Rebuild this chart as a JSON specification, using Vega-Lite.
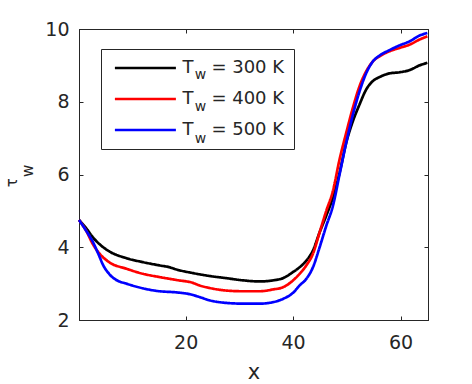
{
  "$schema": "https://vega.github.io/schema/vega-lite/v6.json",
  "width": 349,
  "height": 291,
  "autosize": {"type": "none"},
  "padding": {"left": 79, "top": 29, "right": 44, "bottom": 64},
  "config": {
    "font": "DejaVu Sans",
    "view": {"stroke": "#262626", "strokeWidth": 1},
    "axis": {
      "domainColor": "#262626",
      "tickColor": "#262626",
      "labelColor": "#262626",
      "titleColor": "#262626",
      "grid": false,
      "labelFontSize": 19,
      "tickSize": -4,
      "tickWidth": 1,
      "domainWidth": 1,
      "titleFontWeight": "normal"
    }
  },
  "resolve": {"axis": {"x": "independent", "y": "independent"}},
  "layer": [
    {
      "data": {
        "values": [
          {"x": 0.15, "y": 4.75, "T": "300"},
          {"x": 1.5, "y": 4.52, "T": "300"},
          {"x": 2.75, "y": 4.27, "T": "300"},
          {"x": 4.0, "y": 4.08, "T": "300"},
          {"x": 5.86, "y": 3.88, "T": "300"},
          {"x": 8.97, "y": 3.70, "T": "300"},
          {"x": 12.06, "y": 3.59, "T": "300"},
          {"x": 15.16, "y": 3.50, "T": "300"},
          {"x": 17.0, "y": 3.45, "T": "300"},
          {"x": 18.26, "y": 3.39, "T": "300"},
          {"x": 21.36, "y": 3.29, "T": "300"},
          {"x": 24.46, "y": 3.21, "T": "300"},
          {"x": 27.57, "y": 3.15, "T": "300"},
          {"x": 30.67, "y": 3.09, "T": "300"},
          {"x": 33.77, "y": 3.06, "T": "300"},
          {"x": 36.25, "y": 3.09, "T": "300"},
          {"x": 38.11, "y": 3.15, "T": "300"},
          {"x": 40.0, "y": 3.32, "T": "300"},
          {"x": 41.21, "y": 3.45, "T": "300"},
          {"x": 42.45, "y": 3.63, "T": "300"},
          {"x": 43.69, "y": 3.91, "T": "300"},
          {"x": 44.93, "y": 4.41, "T": "300"},
          {"x": 46.17, "y": 4.87, "T": "300"},
          {"x": 47.41, "y": 5.37, "T": "300"},
          {"x": 48.65, "y": 6.05, "T": "300"},
          {"x": 49.89, "y": 6.88, "T": "300"},
          {"x": 51.13, "y": 7.47, "T": "300"},
          {"x": 52.37, "y": 7.93, "T": "300"},
          {"x": 53.61, "y": 8.34, "T": "300"},
          {"x": 54.85, "y": 8.57, "T": "300"},
          {"x": 56.09, "y": 8.68, "T": "300"},
          {"x": 57.95, "y": 8.78, "T": "300"},
          {"x": 59.81, "y": 8.81, "T": "300"},
          {"x": 61.67, "y": 8.87, "T": "300"},
          {"x": 63.53, "y": 9.00, "T": "300"},
          {"x": 64.98, "y": 9.07, "T": "300"},

          {"x": 0.15, "y": 4.75, "T": "400"},
          {"x": 1.5, "y": 4.45, "T": "400"},
          {"x": 2.75, "y": 4.08, "T": "400"},
          {"x": 4.0, "y": 3.82, "T": "400"},
          {"x": 5.86, "y": 3.58, "T": "400"},
          {"x": 8.97, "y": 3.41, "T": "400"},
          {"x": 12.06, "y": 3.27, "T": "400"},
          {"x": 15.16, "y": 3.18, "T": "400"},
          {"x": 18.26, "y": 3.10, "T": "400"},
          {"x": 21.36, "y": 3.02, "T": "400"},
          {"x": 22.6, "y": 2.95, "T": "400"},
          {"x": 24.46, "y": 2.88, "T": "400"},
          {"x": 27.57, "y": 2.81, "T": "400"},
          {"x": 30.67, "y": 2.79, "T": "400"},
          {"x": 33.77, "y": 2.79, "T": "400"},
          {"x": 36.25, "y": 2.84, "T": "400"},
          {"x": 38.11, "y": 2.90, "T": "400"},
          {"x": 40.0, "y": 3.09, "T": "400"},
          {"x": 41.21, "y": 3.27, "T": "400"},
          {"x": 42.45, "y": 3.50, "T": "400"},
          {"x": 43.69, "y": 3.82, "T": "400"},
          {"x": 44.93, "y": 4.41, "T": "400"},
          {"x": 46.17, "y": 5.00, "T": "400"},
          {"x": 47.41, "y": 5.55, "T": "400"},
          {"x": 48.65, "y": 6.42, "T": "400"},
          {"x": 49.89, "y": 7.15, "T": "400"},
          {"x": 51.13, "y": 7.84, "T": "400"},
          {"x": 52.37, "y": 8.43, "T": "400"},
          {"x": 53.61, "y": 8.84, "T": "400"},
          {"x": 54.85, "y": 9.11, "T": "400"},
          {"x": 56.09, "y": 9.25, "T": "400"},
          {"x": 57.95, "y": 9.39, "T": "400"},
          {"x": 59.81, "y": 9.48, "T": "400"},
          {"x": 61.67, "y": 9.57, "T": "400"},
          {"x": 63.53, "y": 9.71, "T": "400"},
          {"x": 64.98, "y": 9.80, "T": "400"},

          {"x": 0.15, "y": 4.75, "T": "500"},
          {"x": 1.5, "y": 4.45, "T": "500"},
          {"x": 2.75, "y": 4.14, "T": "500"},
          {"x": 3.8, "y": 3.80, "T": "500"},
          {"x": 4.61, "y": 3.52, "T": "500"},
          {"x": 5.86, "y": 3.25, "T": "500"},
          {"x": 7.1, "y": 3.10, "T": "500"},
          {"x": 8.97, "y": 3.00, "T": "500"},
          {"x": 12.06, "y": 2.87, "T": "500"},
          {"x": 15.16, "y": 2.79, "T": "500"},
          {"x": 18.26, "y": 2.76, "T": "500"},
          {"x": 20.74, "y": 2.71, "T": "500"},
          {"x": 22.6, "y": 2.63, "T": "500"},
          {"x": 24.46, "y": 2.54, "T": "500"},
          {"x": 27.57, "y": 2.47, "T": "500"},
          {"x": 30.67, "y": 2.45, "T": "500"},
          {"x": 33.77, "y": 2.45, "T": "500"},
          {"x": 36.25, "y": 2.49, "T": "500"},
          {"x": 38.11, "y": 2.58, "T": "500"},
          {"x": 40.0, "y": 2.75, "T": "500"},
          {"x": 41.21, "y": 2.95, "T": "500"},
          {"x": 42.45, "y": 3.13, "T": "500"},
          {"x": 43.69, "y": 3.45, "T": "500"},
          {"x": 44.93, "y": 4.00, "T": "500"},
          {"x": 46.17, "y": 4.59, "T": "500"},
          {"x": 47.41, "y": 5.14, "T": "500"},
          {"x": 48.65, "y": 6.01, "T": "500"},
          {"x": 49.89, "y": 6.88, "T": "500"},
          {"x": 51.13, "y": 7.65, "T": "500"},
          {"x": 52.37, "y": 8.29, "T": "500"},
          {"x": 53.61, "y": 8.79, "T": "500"},
          {"x": 54.85, "y": 9.11, "T": "500"},
          {"x": 56.09, "y": 9.27, "T": "500"},
          {"x": 57.95, "y": 9.42, "T": "500"},
          {"x": 59.81, "y": 9.55, "T": "500"},
          {"x": 61.67, "y": 9.66, "T": "500"},
          {"x": 63.53, "y": 9.82, "T": "500"},
          {"x": 64.98, "y": 9.89, "T": "500"}
        ]
      },
      "mark": {"type": "line", "strokeWidth": 2.7, "interpolate": "monotone"},
      "encoding": {
        "x": {
          "field": "x", "type": "quantitative",
          "scale": {"domain": [0.15, 65.1], "nice": false, "zero": false},
          "axis": {
            "orient": "bottom", "values": [20, 40, 60], "labelPadding": 17,
            "title": "x", "titleFontSize": 21, "titleY": 58.3, "titleBaseline": "alphabetic"
          }
        },
        "y": {
          "field": "y", "type": "quantitative",
          "scale": {"domain": [2, 10], "nice": false, "zero": false},
          "axis": {
            "orient": "left", "values": [2, 4, 6, 8, 10], "labelPadding": 14,
            "title": "τ", "titleFontSize": 15, "titleX": -62.6, "titleY": 157.7,
            "titleAngle": -90, "titleAlign": "left", "titleBaseline": "alphabetic"
          }
        },
        "color": {
          "field": "T", "type": "nominal",
          "scale": {"domain": ["300", "400", "500"], "range": ["#000000", "#ff0000", "#0000ff"]},
          "legend": {
            "orient": "none", "legendX": 22, "legendY": 20, "title": null,
            "symbolType": "stroke", "symbolSize": 3721, "symbolStrokeWidth": 2.7,
            "clipHeight": 20, "rowPadding": 11, "padding": 9,
            "symbolOffset": 3.4, "labelOffset": 5, "labelFontSize": 18,
            "labelColor": "#262626", "labelBaseline": "middle",
            "labelExpr": "'T\u2002\u2002= ' + datum.label + ' K'",
            "strokeColor": "#262626", "fillColor": "#ffffff"
          }
        },
        "strokeDash": {
          "field": "T", "type": "nominal",
          "scale": {"domain": ["300", "400", "500"], "range": [[1, 0], [1, 0], [1, 0]]},
          "legend": {
            "orient": "top-left", "offset": 20, "title": null,
            "symbolType": "stroke", "symbolSize": 3721, "symbolStrokeWidth": 2.7,
            "symbolOpacity": 0,
            "clipHeight": 20, "rowPadding": 11, "padding": 20.2,
            "labelOffset": 11.5, "labelFontSize": 14,
            "labelColor": "#262626", "labelBaseline": "alphabetic",
            "labelExpr": "'w'"
          }
        }
      }
    },
    {
      "data": {"values": []},
      "mark": "point",
      "encoding": {
        "x": {
          "field": "x", "type": "quantitative",
          "scale": {"domain": [0.15, 65.1], "nice": false, "zero": false},
          "axis": {"orient": "top", "values": [20, 40, 60], "labels": false, "title": null}
        },
        "y": {
          "field": "y", "type": "quantitative",
          "scale": {"domain": [2, 10], "nice": false, "zero": false},
          "axis": {
            "orient": "right", "values": [2, 4, 6, 8, 10], "labels": false,
            "title": "w", "titleFontSize": 15, "titleX": -396, "titleY": 147.4,
            "titleAngle": -90, "titleAlign": "left", "titleBaseline": "alphabetic"
          }
        }
      }
    }
  ]
}
